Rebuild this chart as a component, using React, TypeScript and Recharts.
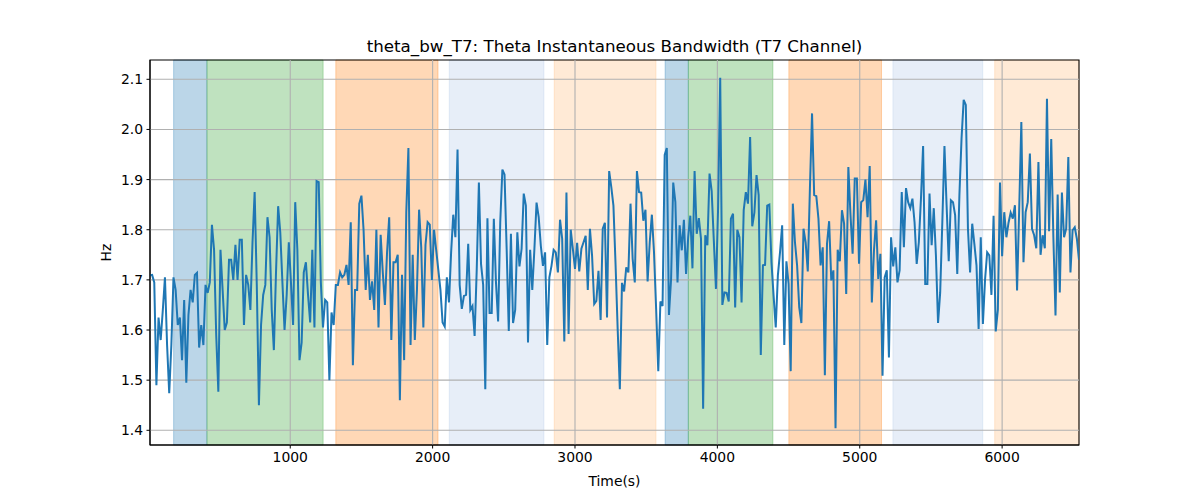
import React from "react";
import {
  LineChart,
  Line,
  XAxis,
  YAxis,
  ReferenceArea,
  ReferenceLine,
} from "recharts";

// sampling of the series (seconds)
const T0 = 15;
const DT = 15;

// theta instantaneous bandwidth, T7 channel (Hz)
const bandwidth = [
  1.709, 1.71, 1.695, 1.49, 1.625, 1.58, 1.64, 1.705, 1.57, 1.474, 1.57, 1.705, 1.68, 1.61, 1.625,
  1.54, 1.66, 1.495, 1.63, 1.68, 1.655, 1.71, 1.714, 1.565, 1.61, 1.57, 1.69, 1.674, 1.695, 1.81,
  1.76, 1.59, 1.477, 1.76, 1.68, 1.6, 1.615, 1.74, 1.74, 1.7, 1.77, 1.7, 1.78, 1.78, 1.61,
  1.71, 1.69, 1.64, 1.775, 1.875, 1.69, 1.45, 1.61, 1.67, 1.69, 1.825, 1.785, 1.64, 1.56, 1.715,
  1.847, 1.795, 1.695, 1.6, 1.67, 1.775, 1.695, 1.61, 1.855, 1.76, 1.54, 1.575, 1.715,
  1.735, 1.67, 1.615, 1.76, 1.605, 1.897, 1.895, 1.695, 1.605, 1.66, 1.655, 1.5, 1.635, 1.61, 1.69,
  1.69, 1.715, 1.705, 1.71, 1.73, 1.69, 1.815, 1.53, 1.68, 1.68, 1.852, 1.868, 1.8, 1.68, 1.75,
  1.66, 1.697, 1.64, 1.8, 1.605, 1.79, 1.715, 1.65, 1.755, 1.825, 1.58, 1.735, 1.735, 1.75, 1.46,
  1.71, 1.54, 1.835, 1.963, 1.57, 1.75, 1.58, 1.68, 1.84, 1.765, 1.605, 1.77, 1.815, 1.81, 1.7,
  1.8, 1.76, 1.72, 1.68, 1.615, 1.607, 1.705, 1.655, 1.755, 1.83, 1.785, 1.96,
  1.69, 1.642, 1.668, 1.67, 1.772, 1.64, 1.648, 1.588, 1.722, 1.894, 1.732, 1.69, 1.482, 1.823, 1.634,
  1.634, 1.822, 1.695, 1.617, 1.815, 1.92, 1.91, 1.762, 1.598, 1.792, 1.614, 1.64, 1.795, 1.727, 1.762,
  1.872, 1.848, 1.575, 1.76, 1.68, 1.762, 1.854, 1.825, 1.768, 1.728, 1.755, 1.57, 1.705, 1.728, 1.76,
  1.755, 1.715, 1.82, 1.782, 1.577, 1.874, 1.592, 1.8, 1.762, 1.722, 1.774, 1.717, 1.762, 1.775, 1.788,
  1.68, 1.802, 1.748, 1.652, 1.658, 1.718, 1.62, 1.802, 1.814, 1.625, 1.917, 1.885, 1.848,
  1.73, 1.6, 1.482, 1.694, 1.677, 1.725, 1.715, 1.852, 1.742, 1.695, 1.917, 1.875, 1.874, 1.818, 1.84,
  1.697, 1.775, 1.83, 1.755, 1.642, 1.518, 1.657, 1.648, 1.949, 1.963, 1.63, 1.702, 1.894, 1.855, 1.695,
  1.809, 1.759, 1.82, 1.712, 1.785, 1.828, 1.723, 1.917, 1.792, 1.823, 1.782, 1.443, 1.789, 1.769, 1.912,
  1.877, 1.779, 1.682, 1.842, 2.103, 1.65, 1.675, 1.674, 1.657, 1.822, 1.832, 1.645, 1.8, 1.785, 1.655,
  1.839, 1.875, 1.852, 1.985, 1.807, 1.834, 1.909, 1.869, 1.55, 1.729, 1.73, 1.848,
  1.85, 1.735, 1.668, 1.605, 1.709, 1.755, 1.809, 1.57, 1.737, 1.692, 1.518, 1.852, 1.775, 1.729, 1.645,
  1.614, 1.802, 1.775, 1.717, 1.882, 2.032, 1.869, 1.867, 1.822, 1.729, 1.765, 1.51, 1.772, 1.817, 1.699,
  1.719, 1.404, 1.76, 1.737, 1.839, 1.812, 1.672, 1.925, 1.83, 1.752, 1.902, 1.902, 1.732, 1.855, 1.859,
  1.9, 1.825, 1.927, 1.655, 1.759, 1.819, 1.702, 1.752, 1.509, 1.705, 1.719, 1.545, 1.785, 1.727, 1.765,
  1.695, 1.719, 1.875, 1.765, 1.883, 1.855, 1.843, 1.862, 1.815, 1.732, 1.775, 1.862, 1.967,
  1.692, 1.692, 1.872, 1.769, 1.843, 1.749, 1.614, 1.675, 1.815, 1.967, 1.849, 1.737, 1.859, 1.855, 1.829,
  1.712, 1.869, 1.982, 2.059, 2.049, 1.802, 1.715, 1.812, 1.772, 1.729, 1.602, 1.785, 1.612, 1.7, 1.755,
  1.749, 1.67, 1.828, 1.597, 1.64, 1.894, 1.747, 1.835, 1.785, 1.814, 1.834, 1.822, 1.849, 1.679, 1.842,
  2.015, 1.735, 1.835, 1.855, 1.952, 1.802, 1.789, 1.763, 1.935, 1.75, 1.789, 1.763, 2.061, 1.797, 1.981,
  1.785, 1.629, 1.87, 1.675, 1.874, 1.785, 1.802, 1.945, 1.715, 1.799, 1.805, 1.782, 1.74,
];

// shaded segments (seconds)
const bandStarts = [181, 415, 1320, 2117, 2854, 3633, 3796, 4502, 5233, 5948];
const bandEnds = [415, 1231, 2038, 2782, 3569, 3796, 4390, 5153, 5864, 6540];
const bandColors = [
  "#1f77b4", "#2ca02c", "#ff7f0e", "#aec7e8", "#ffbb78",
  "#1f77b4", "#2ca02c", "#ff7f0e", "#aec7e8", "#ffbb78",
];

const xTicks = [1000, 2000, 3000, 4000, 5000, 6000];
const yTicks = [1.4, 1.5, 1.6, 1.7, 1.8, 1.9, 2.0, 2.1];

const X_MIN = T0;
const X_MAX = T0 + DT * (bandwidth.length - 1);
const Y_MIN = 1.3707;
const Y_MAX = 2.1385;

const FONT = "DejaVu Sans, sans-serif";
const GRID = "#b0b0b0";

export default function App() {
  const data = bandwidth.map((v, i) => ({ t: T0 + i * DT, v }));
  const tickStyle = { fill: "#000", fontSize: 13.9, fontFamily: FONT };

  return (
    <div style={{ position: "absolute", left: 0, top: 0, width: 1200, height: 500, background: "#fff" }}>
      <LineChart
        width={1200}
        height={500}
        data={data}
        margin={{ top: 60, right: 121, left: 90, bottom: 25 }}
      >
        {bandStarts.map((s, i) => (
          <ReferenceArea
            key={"band" + i}
            x1={s}
            x2={bandEnds[i]}
            y1={Y_MIN}
            y2={Y_MAX}
            fill={bandColors[i]}
            fillOpacity={0.3}
            stroke={bandColors[i]}
            strokeOpacity={0.3}
          />
        ))}
        {/* grid drawn above the spans, like matplotlib */}
        {xTicks.map((t) => (
          <ReferenceLine key={"gx" + t} x={t} stroke={GRID} strokeWidth={1.1} />
        ))}
        {yTicks.map((t) => (
          <ReferenceLine key={"gy" + t} y={t} stroke={GRID} strokeWidth={1.1} />
        ))}
        <XAxis
          dataKey="t"
          type="number"
          domain={[X_MIN, X_MAX]}
          ticks={xTicks}
          height={30}
          tick={tickStyle}
          tickSize={3.5}
          tickMargin={3.5}
          tickLine={{ stroke: "#000" }}
          axisLine={{ stroke: "#000" }}
          allowDataOverflow
        />
        <YAxis
          type="number"
          domain={[Y_MIN, Y_MAX]}
          ticks={yTicks}
          width={60}
          tick={tickStyle}
          tickSize={3.5}
          tickMargin={3.5}
          tickLine={{ stroke: "#000" }}
          axisLine={{ stroke: "#000" }}
          tickFormatter={(v: number) => v.toFixed(1)}
          allowDataOverflow
        />
        <Line
          type="linear"
          dataKey="v"
          stroke="#1f77b4"
          strokeWidth={2}
          dot={false}
          isAnimationActive={false}
        />
        <ReferenceArea
          x1={X_MIN}
          x2={X_MAX}
          y1={Y_MIN}
          y2={Y_MAX}
          fill="none"
          stroke="#000"
          strokeWidth={1.1}
        />
      </LineChart>
      <svg
        width={1200}
        height={500}
        style={{ position: "absolute", left: 0, top: 0, pointerEvents: "none" }}
      >
        <text x={614.5} y={52} textAnchor="middle" fontFamily={FONT} fontSize={16.7} fill="#000">
          theta_bw_T7: Theta Instantaneous Bandwidth (T7 Channel)
        </text>
        <text x={614.5} y={486} textAnchor="middle" fontFamily={FONT} fontSize={13.9} fill="#000">
          Time(s)
        </text>
        <text
          x={111}
          y={252.5}
          textAnchor="middle"
          fontFamily={FONT}
          fontSize={13.9}
          fill="#000"
          transform="rotate(-90 111 252.5)"
        >
          Hz
        </text>
      </svg>
    </div>
  );
}
